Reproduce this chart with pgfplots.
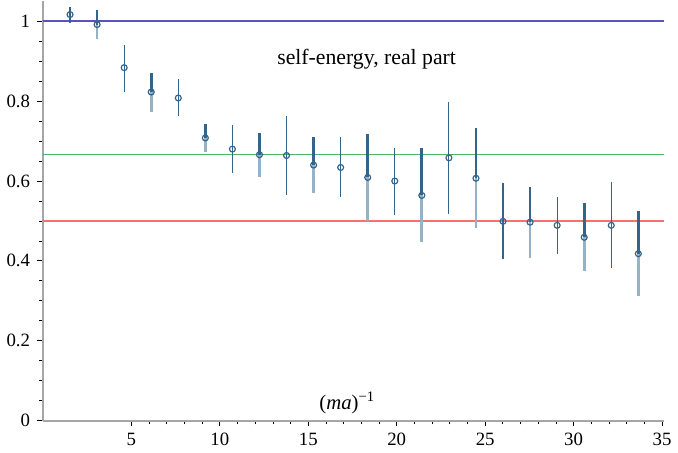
\documentclass[border=0pt]{standalone}
\usepackage{pgfplots}
\pgfplotsset{compat=1.18}
\usepackage{pgfplotstable}
\usepackage{fontspec}
\setmainfont{Liberation Serif}

\definecolor{bardark}{RGB}{50,100,140}
\definecolor{barlight}{RGB}{150,178,198}
\definecolor{lineblue}{RGB}{90,80,200}
\definecolor{linegreen}{RGB}{80,180,110}
\definecolor{linered}{RGB}{255,110,110}

% odd-numbered points: thin bars
\pgfplotstableread{
x     y     ep    em
1.53  1.017 0.020 0.020
4.59  0.884 0.058 0.060
7.65  0.808 0.048 0.046
10.71 0.680 0.061 0.061
13.77 0.664 0.100 0.099
16.83 0.634 0.077 0.075
19.89 0.600 0.083 0.085
22.95 0.658 0.140 0.141
26.01 0.499 0.096 0.095
29.07 0.489 0.071 0.072
32.13 0.489 0.109 0.108
}\oddpts

% even-numbered points: thick bars, dark above, light below
\pgfplotstableread{
x     y     ep    em
3.06  0.992 0.036 0.035
6.12  0.823 0.048 0.049
9.18  0.708 0.036 0.036
12.24 0.666 0.055 0.056
15.30 0.640 0.071 0.070
18.36 0.609 0.109 0.108
21.42 0.564 0.118 0.117
24.48 0.607 0.126 0.125
27.54 0.497 0.089 0.090
30.60 0.459 0.086 0.085
33.66 0.418 0.107 0.105
}\evenpts

\begin{document}
\begin{tikzpicture}
\begin{axis}[
    scale only axis,
    width=314pt,
    height=212pt,
    xmin=0, xmax=35.1,
    ymin=0, ymax=1.05,
    axis lines=left,
    axis line style={-, gray!70, line width=1pt},
    tick align=outside,
    tick style={black, line width=0.4pt},
    major tick length=3pt,
    minor tick length=2pt,
    xtick={5,10,...,35},
    ytick={0,0.2,...,1},
    minor x tick num=4,
    minor y tick num=3,
    font=\fontsize{9.5}{11}\selectfont,
    /pgf/number format/assume math mode=true,
    clip=false,
]
\addplot[draw=lineblue, line width=0.9pt] coordinates {(0,1) (35.1,1)};
\addplot[draw=linegreen, line width=0.9pt] coordinates {(0,0.6667) (35.1,0.6667)};
\addplot[draw=linered, line width=0.9pt] coordinates {(0,0.5) (35.1,0.5)};

\addplot[draw=none, mark=none, forget plot,
    error bars/.cd, y dir=minus, y explicit, error mark=none,
    error bar style={draw=barlight, line width=1.4pt}]
    table[x=x, y=y, y error minus=em] {\evenpts};
\addplot[draw=none, mark=none, forget plot,
    error bars/.cd, y dir=plus, y explicit, error mark=none,
    error bar style={draw=bardark, line width=1.4pt}]
    table[x=x, y=y, y error plus=ep] {\evenpts};
\addplot[draw=none, mark=o, mark size=1.5pt, mark options={draw=bardark, line width=0.6pt},
    error bars/.cd, y dir=both, y explicit, error mark=none,
    error bar style={draw=bardark, line width=0.55pt}]
    table[x=x, y=y, y error plus=ep, y error minus=em] {\oddpts};
\addplot[draw=none, mark=o, mark size=1.5pt, mark options={draw=bardark, line width=0.6pt}]
    table[x=x, y=y] {\evenpts};

\node[font=\fontsize{11}{13}\selectfont] at (axis cs:18.3,0.905) {self-energy, real part};
\node[font=\fontsize{10.5}{12}\selectfont] at (axis cs:17.2,0.045) {(\textit{ma})\textsuperscript{−1}};
\end{axis}
\end{tikzpicture}
\end{document}
